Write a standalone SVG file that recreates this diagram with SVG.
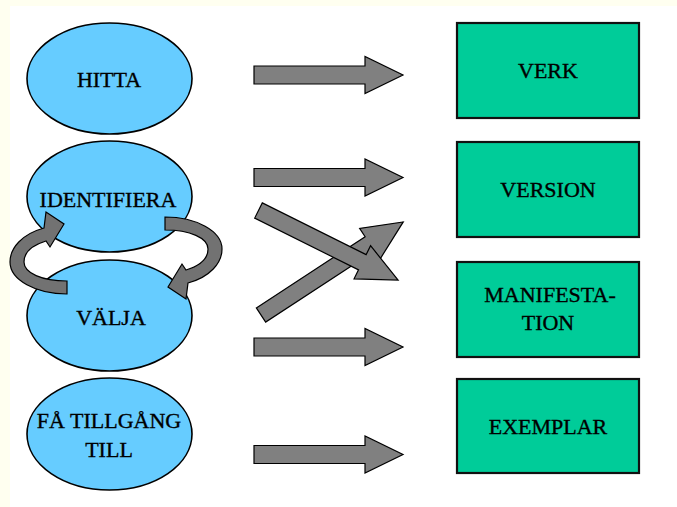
<svg xmlns="http://www.w3.org/2000/svg" width="677" height="507" viewBox="0 0 677 507">
<style>
.ell{fill:#66CCFF;stroke:#000;stroke-width:1.6}
.box{fill:#00CC99;stroke:#111;stroke-width:2.2}
.arr{fill:#808080;stroke:#000;stroke-width:1.2;stroke-linejoin:miter}
.curv{fill:#727272;stroke:#000;stroke-width:1.2}
text{font-family:"Liberation Serif","Times New Roman",serif;font-size:22px;fill:#000;stroke:#000;stroke-width:0.35;text-anchor:middle}
</style>
<defs>
<path id="harr" d="M0,-9 H111 V-18.5 L149,0 L111,18.5 V9 H0 Z"/>
</defs>
<rect x="0" y="0" width="677" height="507" fill="#FFFFF0"/>
<rect x="10" y="6" width="667" height="501" fill="#FFFFFF"/>

<g id="hitta"><ellipse class="ell" cx="109.5" cy="78.5" rx="82.5" ry="55.5"/><text x="109" y="87">HITTA</text></g>
<g id="identifiera"><ellipse class="ell" cx="109.5" cy="196.5" rx="82.5" ry="55.5"/><text x="108" y="207">IDENTIFIERA</text></g>
<g id="valja"><ellipse class="ell" cx="109.5" cy="315.5" rx="82.5" ry="55.5"/><text x="111" y="325">VÄLJA</text></g>
<g id="fa-tillgang-till"><ellipse class="ell" cx="109.5" cy="434" rx="82.5" ry="56"/><text x="109" y="428">FÅ TILLGÅNG</text><text x="109" y="457">TILL</text></g>

<g id="verk"><rect class="box" x="457" y="23" width="182" height="95"/><text x="548" y="78">VERK</text></g>
<g id="version"><rect class="box" x="457" y="142" width="182" height="95"/><text x="548" y="197">VERSION</text></g>
<g id="manifestation"><rect class="box" x="457" y="262" width="182" height="95"/><text x="550" y="302">MANIFESTA-</text><text x="548" y="330">TION</text></g>
<g id="exemplar"><rect class="box" x="457" y="379" width="182" height="94"/><text x="548" y="434">EXEMPLAR</text></g>

<g id="connectors">
<use href="#harr" class="arr" transform="translate(254,75)"/>
<use href="#harr" class="arr" transform="translate(254,177.5)"/>
<use href="#harr" class="arr" transform="translate(254,347)"/>
<use href="#harr" class="arr" transform="translate(254,454.5)"/>
<path class="arr" transform="translate(261,315) rotate(-33.2)" d="M0,-8.5 H130 V-18.5 L170,0 L130,18.5 V8.5 H0 Z"/>
<path class="arr" transform="translate(258.5,210.5) rotate(26.5)" d="M0,-8.5 H116 V-18.5 L156,0 L116,18.5 V8.5 H0 Z"/>
<path id="curve-left" class="curv" d="M67,281 C42,281 24,273 24,262 C24,252 33,245 46,241 L50,247 L64,224 L46,212 L44,228 C22,234 10,248 10,262 C10,280 36,294 67,294 Z"/>
<path id="curve-right" class="curv" transform="rotate(180 116 255.5)" d="M67,281 C42,281 24,273 24,262 C24,252 33,245 46,241 L50,247 L64,224 L46,212 L44,228 C22,234 10,248 10,262 C10,280 36,294 67,294 Z"/>
</g>
</svg>
